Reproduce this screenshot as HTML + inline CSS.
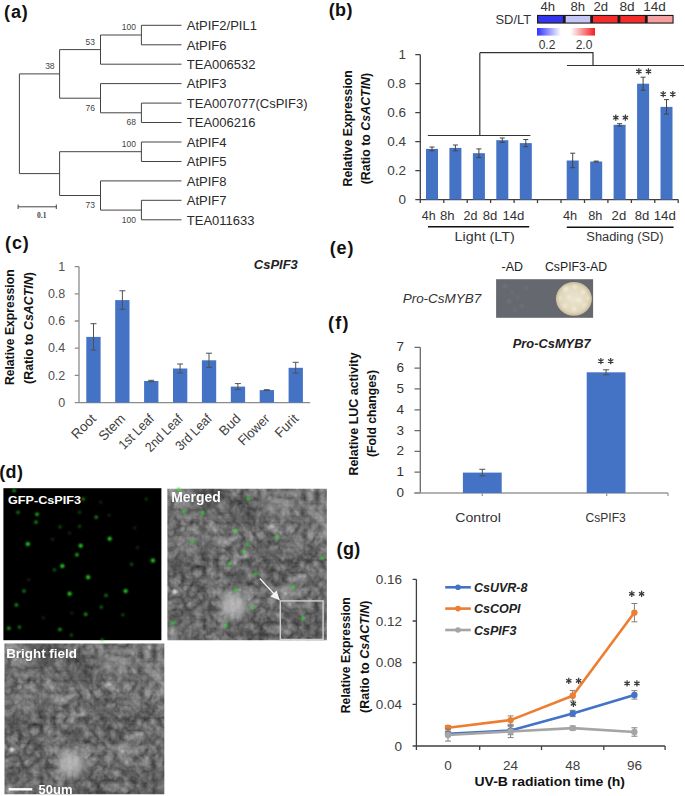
<!DOCTYPE html>
<html><head><meta charset="utf-8"><title>Figure</title>
<style>
html,body{margin:0;padding:0;background:#fff;}
svg{display:block;}
text{font-family:"Liberation Sans", sans-serif;}
</style></head><body>
<svg width="685" height="796" viewBox="0 0 685 796">

<text x="4.0" y="17.8" font-size="18" font-weight="bold" fill="#111" textLength="23.8" lengthAdjust="spacing">(a)</text>
<text x="328.7" y="16.1" font-size="18" font-weight="bold" fill="#111" textLength="23.8" lengthAdjust="spacing">(b)</text>
<text x="5.0" y="248.8" font-size="18" font-weight="bold" fill="#111" textLength="23.8" lengthAdjust="spacing">(c)</text>
<text x="-0.8" y="478.1" font-size="18" font-weight="bold" fill="#111" textLength="23.8" lengthAdjust="spacing">(d)</text>
<text x="329.7" y="253.5" font-size="18" font-weight="bold" fill="#111" textLength="23.8" lengthAdjust="spacing">(e)</text>
<text x="328.0" y="329.3" font-size="18" font-weight="bold" fill="#111" textLength="20.5" lengthAdjust="spacing">(f)</text>
<text x="336.5" y="555.2" font-size="18" font-weight="bold" fill="#111" textLength="23.8" lengthAdjust="spacing">(g)</text>
<path d="M141.4 25.3L181.5 25.3 M141.4 44.8L181.5 44.8 M100.5 64.2L181.5 64.2 M100.5 83.6L181.5 83.6 M141.4 103.1L181.5 103.1 M141.4 122.5L181.5 122.5 M141.4 142.0L181.5 142.0 M141.4 161.5L181.5 161.5 M100.5 180.9L181.5 180.9 M141.4 200.3L181.5 200.3 M141.4 219.8L181.5 219.8 M141.4 25.3L141.4 44.8 M100.5 35.0L141.4 35.0 M100.5 35.0L100.5 64.2 M59.6 49.6L100.5 49.6 M141.4 103.1L141.4 122.5 M100.5 112.8L141.4 112.8 M100.5 83.6L100.5 112.8 M59.6 98.2L100.5 98.2 M59.6 49.6L59.6 98.2 M19.4 73.9L59.6 73.9 M141.4 142.0L141.4 161.5 M59.6 151.7L141.4 151.7 M141.4 200.3L141.4 219.8 M100.5 210.1L141.4 210.1 M100.5 180.9L100.5 210.1 M59.6 195.5L100.5 195.5 M59.6 151.7L59.6 195.5 M19.4 173.6L59.6 173.6 M19.4 73.9L19.4 173.6 M18.1 206.8L56.3 206.8 M18.1 204.5L18.1 209.0 M56.3 204.5L56.3 209.0" stroke="#444" stroke-width="1" fill="none"/>
<text x="186.8" y="30.1" font-size="13" fill="#2a2a2a">AtPIF2/PIL1</text>
<text x="186.8" y="49.5" font-size="13" fill="#2a2a2a">AtPIF6</text>
<text x="186.8" y="69.0" font-size="13" fill="#2a2a2a">TEA006532</text>
<text x="186.8" y="88.4" font-size="13" fill="#2a2a2a">AtPIF3</text>
<text x="186.8" y="107.9" font-size="13" fill="#2a2a2a">TEA007077(CsPIF3)</text>
<text x="186.8" y="127.3" font-size="13" fill="#2a2a2a">TEA006216</text>
<text x="186.8" y="146.8" font-size="13" fill="#2a2a2a">AtPIF4</text>
<text x="186.8" y="166.3" font-size="13" fill="#2a2a2a">AtPIF5</text>
<text x="186.8" y="185.7" font-size="13" fill="#2a2a2a">AtPIF8</text>
<text x="186.8" y="205.2" font-size="13" fill="#2a2a2a">AtPIF7</text>
<text x="186.8" y="224.6" font-size="13" fill="#2a2a2a">TEA011633</text>
<text x="136" y="29.6" font-size="8.5" fill="#444" text-anchor="end">100</text>
<text x="95" y="44.7" font-size="8.5" fill="#444" text-anchor="end">53</text>
<text x="54.6" y="68.8" font-size="8.5" fill="#444" text-anchor="end">38</text>
<text x="95" y="110.5" font-size="8.5" fill="#444" text-anchor="end">76</text>
<text x="136" y="125.4" font-size="8.5" fill="#444" text-anchor="end">68</text>
<text x="136" y="146.5" font-size="8.5" fill="#444" text-anchor="end">100</text>
<text x="95" y="208" font-size="8.5" fill="#444" text-anchor="end">73</text>
<text x="136" y="222.7" font-size="8.5" fill="#444" text-anchor="end">100</text>
<text x="41.8" y="218.2" font-size="7.5" font-weight="bold" fill="#444" text-anchor="middle" style="font-family:'Liberation Serif',serif">0.1</text>
<rect x="537" y="14.9" width="136.6" height="8.7" fill="#1a1a1a"/>
<rect x="538.1" y="16.0" width="24.8" height="6.5" fill="#3434ee"/>
<rect x="565.7" y="16.0" width="24.5" height="6.5" fill="#c6c6f6"/>
<rect x="593.0" y="16.0" width="24.5" height="6.5" fill="#f42c2c"/>
<rect x="620.4" y="16.0" width="24.5" height="6.5" fill="#f42c2c"/>
<rect x="647.7" y="16.0" width="24.8" height="6.5" fill="#f4a0a0"/>
<text x="540.5" y="10.6" font-size="12" fill="#333" textLength="14.6" lengthAdjust="spacingAndGlyphs">4h</text>
<text x="570.5" y="10.6" font-size="12" fill="#333" textLength="14.6" lengthAdjust="spacingAndGlyphs">8h</text>
<text x="593.5" y="10.6" font-size="12" fill="#333" textLength="14.6" lengthAdjust="spacingAndGlyphs">2d</text>
<text x="619.5" y="10.6" font-size="12" fill="#333" textLength="15.2" lengthAdjust="spacingAndGlyphs">8d</text>
<text x="643.2" y="10.6" font-size="12" fill="#333" textLength="22.6" lengthAdjust="spacingAndGlyphs">14d</text>
<text x="495.5" y="24.1" font-size="12" fill="#333" textLength="35.6" lengthAdjust="spacingAndGlyphs">SD/LT</text>
<defs><linearGradient id="gb" x1="0" x2="1"><stop offset="0" stop-color="#3030ff"/><stop offset="1" stop-color="#ffffff"/></linearGradient><linearGradient id="gr" x1="0" x2="1"><stop offset="0" stop-color="#ffffff"/><stop offset="1" stop-color="#f02020"/></linearGradient></defs>
<rect x="537" y="28" width="24" height="7.6" fill="url(#gb)"/>
<rect x="570.5" y="28" width="24.5" height="7.6" fill="url(#gr)"/>
<text x="547" y="49" font-size="12" fill="#333" text-anchor="middle">0.2</text>
<text x="584" y="49" font-size="12" fill="#333" text-anchor="middle">2.0</text>
<path d="M479.8 52.7H593V65.5 M479.8 52.7V135.5 M427.9 135.5H530.4 M567 65.5H684" stroke="#333" stroke-width="1.2" fill="none"/>
<path d="M420.3 54.7V199.6 M415.3 199.6H678.4 M415.3 199.6H420.3 M415.3 170.6H420.3 M415.3 141.6H420.3 M415.3 112.7H420.3 M415.3 83.7H420.3 M415.3 54.7H420.3 M420.3 199.6V203 M443.8 199.6V203 M467.2 199.6V203 M490.6 199.6V203 M514.1 199.6V203 M537.5 199.6V203 M561.0 199.6V203 M584.5 199.6V203 M607.9 199.6V203 M631.4 199.6V203 M654.8 199.6V203 M678.2 199.6V203" stroke="#404040" stroke-width="1.3" fill="none"/>
<text x="406" y="203.6" font-size="13.5" fill="#404040" text-anchor="end">0</text>
<text x="406" y="174.6" font-size="13.5" fill="#404040" text-anchor="end">0.2</text>
<text x="406" y="145.6" font-size="13.5" fill="#404040" text-anchor="end">0.4</text>
<text x="406" y="116.7" font-size="13.5" fill="#404040" text-anchor="end">0.6</text>
<text x="406" y="87.7" font-size="13.5" fill="#404040" text-anchor="end">0.8</text>
<text x="406" y="58.7" font-size="13.5" fill="#404040" text-anchor="end">1</text>
<rect x="426.0" y="148.9" width="12" height="50.7" fill="#4472c4"/>
<rect x="449.4" y="147.9" width="12" height="51.7" fill="#4472c4"/>
<rect x="472.9" y="153.2" width="12" height="46.4" fill="#4472c4"/>
<rect x="496.3" y="140.2" width="12" height="59.4" fill="#4472c4"/>
<rect x="519.8" y="143.1" width="12" height="56.5" fill="#4472c4"/>
<rect x="566.7" y="160.5" width="12" height="39.1" fill="#4472c4"/>
<rect x="590.2" y="161.5" width="12" height="38.1" fill="#4472c4"/>
<rect x="613.6" y="124.8" width="12" height="74.8" fill="#4472c4"/>
<rect x="637.1" y="83.7" width="12" height="115.9" fill="#4472c4"/>
<rect x="660.5" y="106.9" width="12" height="92.7" fill="#4472c4"/>
<path d="M432.0 150.8V147.0 M429.5 147.0h5 M429.5 150.8h5 M455.4 150.8V145.0 M452.9 145.0h5 M452.9 150.8h5 M478.9 157.6V148.9 M476.4 148.9h5 M476.4 157.6h5 M502.3 142.4V138.0 M499.8 138.0h5 M499.8 142.4h5 M525.8 146.7V139.5 M523.3 139.5h5 M523.3 146.7h5 M572.7 167.7V153.2 M570.2 153.2h5 M570.2 167.7h5 M596.2 161.9V161.1 M593.7 161.1h5 M593.7 161.9h5 M619.6 126.0V123.7 M617.1 123.7h5 M617.1 126.0h5 M643.1 90.2V77.2 M640.6 77.2h5 M640.6 90.2h5 M666.5 114.1V99.6 M664.0 99.6h5 M664.0 114.1h5" stroke="#444" stroke-width="1" fill="none"/>
<path d="M615.80 114.60L615.80 120.80 M613.12 116.15L618.48 119.25 M613.12 119.25L618.48 116.15" stroke="#3a3a3a" stroke-width="1.25" fill="none"/>
<path d="M625.40 114.60L625.40 120.80 M622.72 116.15L628.08 119.25 M622.72 119.25L628.08 116.15" stroke="#3a3a3a" stroke-width="1.25" fill="none"/>
<path d="M638.85 68.30L638.85 74.50 M636.17 69.85L641.53 72.95 M636.17 72.95L641.53 69.85" stroke="#3a3a3a" stroke-width="1.25" fill="none"/>
<path d="M648.45 68.30L648.45 74.50 M645.77 69.85L651.13 72.95 M645.77 72.95L651.13 69.85" stroke="#3a3a3a" stroke-width="1.25" fill="none"/>
<path d="M663.20 91.00L663.20 97.20 M660.52 92.55L665.88 95.65 M660.52 95.65L665.88 92.55" stroke="#3a3a3a" stroke-width="1.25" fill="none"/>
<path d="M672.80 91.00L672.80 97.20 M670.12 92.55L675.48 95.65 M670.12 95.65L675.48 92.55" stroke="#3a3a3a" stroke-width="1.25" fill="none"/>
<text x="421.8" y="220.2" font-size="12.5" fill="#333" textLength="13.8" lengthAdjust="spacingAndGlyphs">4h</text>
<text x="440" y="220.2" font-size="12.5" fill="#333" textLength="14.6" lengthAdjust="spacingAndGlyphs">8h</text>
<text x="463.5" y="220.2" font-size="12.5" fill="#333" textLength="13.9" lengthAdjust="spacingAndGlyphs">2d</text>
<text x="482.7" y="220.2" font-size="12.5" fill="#333" textLength="14.6" lengthAdjust="spacingAndGlyphs">8d</text>
<text x="502.4" y="220.2" font-size="12.5" fill="#333" textLength="22.0" lengthAdjust="spacingAndGlyphs">14d</text>
<text x="563" y="220.2" font-size="12.5" fill="#333" textLength="14.2" lengthAdjust="spacingAndGlyphs">4h</text>
<text x="588.2" y="220.2" font-size="12.5" fill="#333" textLength="14.2" lengthAdjust="spacingAndGlyphs">8h</text>
<text x="611.6" y="220.2" font-size="12.5" fill="#333" textLength="14.6" lengthAdjust="spacingAndGlyphs">2d</text>
<text x="634.7" y="220.2" font-size="12.5" fill="#333" textLength="14.6" lengthAdjust="spacingAndGlyphs">8d</text>
<text x="653.7" y="220.2" font-size="12.5" fill="#333" textLength="22.2" lengthAdjust="spacingAndGlyphs">14d</text>
<path d="M428 226.7H529.2 M566.8 227.3H673.6" stroke="#111" stroke-width="1.6"/>
<text x="454.6" y="240.5" font-size="12.5" fill="#333" textLength="60.2" lengthAdjust="spacingAndGlyphs">Light  (LT)</text>
<text x="586.3" y="241.1" font-size="12.5" fill="#333" textLength="77.3" lengthAdjust="spacingAndGlyphs">Shading (SD)</text>
<text transform="translate(351.7,186.4) rotate(-90)" font-size="13.5" font-weight="bold" fill="#111" textLength="116.1" lengthAdjust="spacingAndGlyphs">Relative Expression</text>
<text transform="translate(370.1,184.3) rotate(-90)" font-size="13.5" font-weight="bold" fill="#111" textLength="111.5" lengthAdjust="spacingAndGlyphs">(Ratio  to <tspan font-style="italic">CsACTIN</tspan>)</text>
<path d="M79 266.6V402.6 M74.7 402.6H310.2 M74.7 402.6H79 M74.7 375.4H79 M74.7 348.2H79 M74.7 321.0H79 M74.7 293.8H79 M74.7 266.6H79" stroke="#8c8c8c" stroke-width="1.3" fill="none"/>
<text x="65.3" y="406.8" font-size="12.5" fill="#505050" text-anchor="end">0</text>
<text x="65.3" y="379.6" font-size="12.5" fill="#505050" text-anchor="end">0.2</text>
<text x="65.3" y="352.4" font-size="12.5" fill="#505050" text-anchor="end">0.4</text>
<text x="65.3" y="325.2" font-size="12.5" fill="#505050" text-anchor="end">0.6</text>
<text x="65.3" y="298.0" font-size="12.5" fill="#505050" text-anchor="end">0.8</text>
<text x="65.3" y="270.8" font-size="12.5" fill="#505050" text-anchor="end">1</text>
<rect x="86.3" y="336.9" width="14.3" height="65.7" fill="#4472c4"/>
<text transform="translate(97.0,419.5) rotate(-45)" font-size="13.5" fill="#404040" text-anchor="end" textLength="28.5" lengthAdjust="spacingAndGlyphs">Root</text>
<rect x="115.2" y="300.1" width="14.3" height="102.5" fill="#4472c4"/>
<text transform="translate(126.0,419.5) rotate(-45)" font-size="13.5" fill="#404040" text-anchor="end" textLength="31.0" lengthAdjust="spacingAndGlyphs">Stem</text>
<rect x="144.1" y="381.0" width="14.3" height="21.6" fill="#4472c4"/>
<text transform="translate(154.8,419.5) rotate(-45)" font-size="13.5" fill="#404040" text-anchor="end" textLength="43.5" lengthAdjust="spacingAndGlyphs">1st Leaf</text>
<rect x="173.0" y="368.5" width="14.3" height="34.1" fill="#4472c4"/>
<text transform="translate(183.7,419.5) rotate(-45)" font-size="13.5" fill="#404040" text-anchor="end" textLength="47.0" lengthAdjust="spacingAndGlyphs">2nd Leaf</text>
<rect x="201.9" y="360.3" width="14.3" height="42.3" fill="#4472c4"/>
<text transform="translate(212.6,419.5) rotate(-45)" font-size="13.5" fill="#404040" text-anchor="end" textLength="45.0" lengthAdjust="spacingAndGlyphs">3rd Leaf</text>
<rect x="230.8" y="386.6" width="14.3" height="16.0" fill="#4472c4"/>
<text transform="translate(241.5,419.5) rotate(-45)" font-size="13.5" fill="#404040" text-anchor="end" textLength="24.0" lengthAdjust="spacingAndGlyphs">Bud</text>
<rect x="259.7" y="390.1" width="14.3" height="12.5" fill="#4472c4"/>
<text transform="translate(270.4,419.5) rotate(-45)" font-size="13.5" fill="#404040" text-anchor="end" textLength="38.0" lengthAdjust="spacingAndGlyphs">Flower</text>
<rect x="288.6" y="367.8" width="14.3" height="34.8" fill="#4472c4"/>
<text transform="translate(299.3,419.5) rotate(-45)" font-size="13.5" fill="#404040" text-anchor="end" textLength="27.0" lengthAdjust="spacingAndGlyphs">Furit</text>
<path d="M93.5 350.1V323.7 M90.5 323.7h6 M90.5 350.1h6 M122.4 309.3V290.8 M119.4 290.8h6 M119.4 309.3h6 M151.2 381.7V380.3 M148.2 380.3h6 M148.2 381.7h6 M180.1 373.0V364.0 M177.1 364.0h6 M177.1 373.0h6 M209.0 367.4V353.2 M206.0 353.2h6 M206.0 367.4h6 M237.9 389.5V383.6 M234.9 383.6h6 M234.9 389.5h6 M266.8 390.5V389.7 M263.8 389.7h6 M263.8 390.5h6 M295.7 373.2V362.3 M292.7 362.3h6 M292.7 373.2h6" stroke="#505050" stroke-width="1" fill="none"/>
<text x="253.8" y="269.3" font-size="13" font-weight="bold" font-style="italic" fill="#222" textLength="44" lengthAdjust="spacingAndGlyphs">CsPIF3</text>
<text transform="translate(14.3,385.1) rotate(-90)" font-size="13.5" font-weight="bold" fill="#111" textLength="115.7" lengthAdjust="spacingAndGlyphs">Relative Expression</text>
<text transform="translate(32.7,383.9) rotate(-90)" font-size="13.5" font-weight="bold" fill="#111" textLength="111.8" lengthAdjust="spacingAndGlyphs">(Ratio  to <tspan font-style="italic">CsACTIN</tspan>)</text>
<text x="501.5" y="270.5" font-size="12.5" fill="#222" textLength="21.4" lengthAdjust="spacingAndGlyphs">-AD</text>
<text x="545" y="270.5" font-size="12.5" fill="#222" textLength="62" lengthAdjust="spacingAndGlyphs">CsPIF3-AD</text>
<text x="402.7" y="303.2" font-size="13" font-style="italic" fill="#333" textLength="78.5" lengthAdjust="spacingAndGlyphs">Pro-CsMYB7</text>
<rect x="496.1" y="279.2" width="97" height="38.6" fill="#65696f"/>
<defs><radialGradient id="col"><stop offset="0" stop-color="#ebe4d0"/><stop offset="0.8" stop-color="#e0d6ba"/><stop offset="1" stop-color="#c8bc9c"/></radialGradient></defs>
<ellipse cx="573.9" cy="298.9" rx="18" ry="16.9" fill="url(#col)"/>
<g filter="url(#blur1)" fill="#f4eedc" opacity="0.8">
<circle cx="566" cy="289" r="2.5"/>
<circle cx="575" cy="287" r="2"/>
<circle cx="583" cy="292" r="2.2"/>
<circle cx="569" cy="297" r="2"/>
<circle cx="579" cy="300" r="2.5"/>
<circle cx="565" cy="306" r="2"/>
<circle cx="574" cy="309" r="2.2"/>
<circle cx="584" cy="305" r="1.8"/>
<circle cx="560" cy="298" r="1.6"/>
<circle cx="588" cy="298" r="1.6"/>
</g>
<g filter="url(#blur1)" fill="#7a7e84" opacity="0.6">
<circle cx="505" cy="286" r="2"/>
<circle cx="512" cy="292" r="1.5"/>
<circle cx="509" cy="301" r="2"/>
<circle cx="518" cy="297" r="1.5"/>
<circle cx="522" cy="306" r="1.8"/>
<circle cx="515" cy="310" r="1.5"/>
<circle cx="526" cy="288" r="1.4"/>
</g>
<path d="M420.3 347.3V493.0 M414.5 493.0H420.3 M414.5 472.2H420.3 M414.5 451.4H420.3 M414.5 430.6H420.3 M414.5 409.8H420.3 M414.5 388.9H420.3 M414.5 368.1H420.3 M414.5 347.3H420.3" stroke="#6a6a6a" stroke-width="1.3" fill="none"/>
<path d="M414.5 493.0H668 M482.3 493.0V496 M606.7 493.0V496 M668 493.0V496" stroke="#9a9a9a" stroke-width="1.3" fill="none"/>
<text x="404" y="497.0" font-size="13.5" fill="#333" text-anchor="end">0</text>
<text x="404" y="476.2" font-size="13.5" fill="#333" text-anchor="end">1</text>
<text x="404" y="455.4" font-size="13.5" fill="#333" text-anchor="end">2</text>
<text x="404" y="434.6" font-size="13.5" fill="#333" text-anchor="end">3</text>
<text x="404" y="413.8" font-size="13.5" fill="#333" text-anchor="end">4</text>
<text x="404" y="392.9" font-size="13.5" fill="#333" text-anchor="end">5</text>
<text x="404" y="372.1" font-size="13.5" fill="#333" text-anchor="end">6</text>
<text x="404" y="351.3" font-size="13.5" fill="#333" text-anchor="end">7</text>
<rect x="462.9" y="472.6" width="38.8" height="20.4" fill="#4472c4"/>
<path d="M482.3 475.9V469.3 M479.3 469.3h6 M479.3 475.9h6" stroke="#505050" stroke-width="1" fill="none"/>
<rect x="586.7" y="372.3" width="38.8" height="120.7" fill="#4472c4"/>
<path d="M606.1 374.8V369.8 M603.1 369.8h6 M603.1 374.8h6" stroke="#505050" stroke-width="1" fill="none"/>
<path d="M600.90 358.00L600.90 364.20 M598.22 359.55L603.58 362.65 M598.22 362.65L603.58 359.55" stroke="#3a3a3a" stroke-width="1.25" fill="none"/>
<path d="M610.70 358.00L610.70 364.20 M608.02 359.55L613.38 362.65 M608.02 362.65L613.38 359.55" stroke="#3a3a3a" stroke-width="1.25" fill="none"/>
<text x="512.8" y="347.6" font-size="13" font-weight="bold" font-style="italic" fill="#222" textLength="77.8" lengthAdjust="spacingAndGlyphs">Pro-CsMYB7</text>
<text x="455.3" y="522.2" font-size="13" fill="#333" textLength="45.6" lengthAdjust="spacingAndGlyphs">Control</text>
<text x="585.6" y="522.2" font-size="13" fill="#333" textLength="40.2" lengthAdjust="spacingAndGlyphs">CsPIF3</text>
<text transform="translate(357.6,475.6) rotate(-90)" font-size="12.3" font-weight="bold" fill="#111" textLength="123.3" lengthAdjust="spacingAndGlyphs">Relative LUC activity</text>
<text transform="translate(376.1,457) rotate(-90)" font-size="12.3" font-weight="bold" fill="#111" textLength="87" lengthAdjust="spacingAndGlyphs">(Fold changes)</text>
<path d="M416.4 579.3V746.0 M412.6 746.0H665.1 M412.6 746.0H416.4 M412.6 704.3H416.4 M412.6 662.6H416.4 M412.6 621.0H416.4 M412.6 579.3H416.4 M416.4 746.0V750 M479.7 746.0V750 M541.5 746.0V750 M603.8 746.0V750 M665.1 746.0V750" stroke="#404040" stroke-width="1.3" fill="none"/>
<text x="402" y="750.8" font-size="13.5" fill="#404040" text-anchor="end">0</text>
<text x="402" y="709.1" font-size="13.5" fill="#404040" text-anchor="end">0.04</text>
<text x="402" y="667.4" font-size="13.5" fill="#404040" text-anchor="end">0.08</text>
<text x="402" y="625.8" font-size="13.5" fill="#404040" text-anchor="end">0.12</text>
<text x="402" y="584.1" font-size="13.5" fill="#404040" text-anchor="end">0.16</text>
<path d="M448.0 736.0V731.8 M445.0 731.8h6 M445.0 736.0h6 M510.6 734.7V726.3 M507.6 726.3h6 M507.6 734.7h6 M572.7 716.6V710.3 M569.7 710.3h6 M569.7 716.6h6 M634.4 699.1V690.7 M631.4 690.7h6 M631.4 699.1h6" stroke="#808080" stroke-width="1" fill="none"/>
<polyline points="448.0,733.9 510.6,730.5 572.7,713.5 634.4,694.9" stroke="#4472c4" stroke-width="2.6" fill="none" stroke-linejoin="round"/>
<circle cx="448.0" cy="733.9" r="3.2" fill="#4472c4"/>
<circle cx="510.6" cy="730.5" r="3.2" fill="#4472c4"/>
<circle cx="572.7" cy="713.5" r="3.2" fill="#4472c4"/>
<circle cx="634.4" cy="694.9" r="3.2" fill="#4472c4"/>
<path d="M448.0 729.8V725.6 M445.0 725.6h6 M445.0 729.8h6 M510.6 724.3V715.9 M507.6 715.9h6 M507.6 724.3h6 M572.7 701.1V690.6 M569.7 690.6h6 M569.7 701.1h6 M634.4 621.8V603.5 M631.4 603.5h6 M631.4 621.8h6" stroke="#808080" stroke-width="1" fill="none"/>
<polyline points="448.0,727.7 510.6,720.1 572.7,695.8 634.4,612.6" stroke="#ed7d31" stroke-width="2.6" fill="none" stroke-linejoin="round"/>
<circle cx="448.0" cy="727.7" r="3.2" fill="#ed7d31"/>
<circle cx="510.6" cy="720.1" r="3.2" fill="#ed7d31"/>
<circle cx="572.7" cy="695.8" r="3.2" fill="#ed7d31"/>
<circle cx="634.4" cy="612.6" r="3.2" fill="#ed7d31"/>
<path d="M448.0 741.1V728.9 M445.0 728.9h6 M445.0 741.1h6 M510.6 737.6V725.4 M507.6 725.4h6 M507.6 737.6h6 M572.7 730.2V726.0 M569.7 726.0h6 M569.7 730.2h6 M634.4 736.2V727.8 M631.4 727.8h6 M631.4 736.2h6" stroke="#808080" stroke-width="1" fill="none"/>
<polyline points="448.0,735.0 510.6,731.5 572.7,728.1 634.4,732.0" stroke="#a5a5a5" stroke-width="2.6" fill="none" stroke-linejoin="round"/>
<circle cx="448.0" cy="735.0" r="3.2" fill="#a5a5a5"/>
<circle cx="510.6" cy="731.5" r="3.2" fill="#a5a5a5"/>
<circle cx="572.7" cy="728.1" r="3.2" fill="#a5a5a5"/>
<circle cx="634.4" cy="732.0" r="3.2" fill="#a5a5a5"/>
<path d="M631.80 590.70L631.80 596.90 M629.12 592.25L634.48 595.35 M629.12 595.35L634.48 592.25" stroke="#3a3a3a" stroke-width="1.25" fill="none"/>
<path d="M641.60 590.70L641.60 596.90 M638.92 592.25L644.28 595.35 M638.92 595.35L644.28 592.25" stroke="#3a3a3a" stroke-width="1.25" fill="none"/>
<path d="M627.10 680.30L627.10 686.50 M624.42 681.85L629.78 684.95 M624.42 684.95L629.78 681.85" stroke="#3a3a3a" stroke-width="1.25" fill="none"/>
<path d="M636.90 680.30L636.90 686.50 M634.22 681.85L639.58 684.95 M634.22 684.95L639.58 681.85" stroke="#3a3a3a" stroke-width="1.25" fill="none"/>
<path d="M568.80 677.70L568.80 683.90 M566.12 679.25L571.48 682.35 M566.12 682.35L571.48 679.25" stroke="#3a3a3a" stroke-width="1.25" fill="none"/>
<path d="M578.60 677.70L578.60 683.90 M575.92 679.25L581.28 682.35 M575.92 682.35L581.28 679.25" stroke="#3a3a3a" stroke-width="1.25" fill="none"/>
<path d="M573.40 700.70L573.40 706.90 M570.72 702.25L576.08 705.35 M570.72 705.35L576.08 702.25" stroke="#3a3a3a" stroke-width="1.25" fill="none"/>
<path d="M445.2 587.3H470.8" stroke="#4472c4" stroke-width="2.6"/>
<circle cx="458" cy="587.3" r="2.8" fill="#4472c4"/>
<text x="474" y="591.8" font-size="12.5" font-weight="bold" font-style="italic" fill="#222">CsUVR-8</text>
<path d="M445.2 608.6H470.8" stroke="#ed7d31" stroke-width="2.6"/>
<circle cx="458" cy="608.6" r="2.8" fill="#ed7d31"/>
<text x="474" y="613.1" font-size="12.5" font-weight="bold" font-style="italic" fill="#222">CsCOPI</text>
<path d="M445.2 630.0H470.8" stroke="#a5a5a5" stroke-width="2.6"/>
<circle cx="458" cy="630.0" r="2.8" fill="#a5a5a5"/>
<text x="474" y="634.5" font-size="12.5" font-weight="bold" font-style="italic" fill="#222">CsPIF3</text>
<text x="448.0" y="769.5" font-size="13.5" fill="#404040" text-anchor="middle">0</text>
<text x="510.6" y="769.5" font-size="13.5" fill="#404040" text-anchor="middle">24</text>
<text x="572.7" y="769.5" font-size="13.5" fill="#404040" text-anchor="middle">48</text>
<text x="634.4" y="769.5" font-size="13.5" fill="#404040" text-anchor="middle">96</text>
<text x="474.5" y="786.4" font-size="13" font-weight="bold" fill="#111" textLength="150.5" lengthAdjust="spacingAndGlyphs">UV-B radiation time (h)</text>
<text transform="translate(350.3,713.2) rotate(-90)" font-size="13.5" font-weight="bold" fill="#111" textLength="116.0" lengthAdjust="spacingAndGlyphs">Relative Expression</text>
<text transform="translate(369.2,712.9) rotate(-90)" font-size="13.5" font-weight="bold" fill="#111" textLength="112.4" lengthAdjust="spacingAndGlyphs">(Ratio  to <tspan font-style="italic">CsACTIN</tspan>)</text>
<defs>
<filter id="tex" color-interpolation-filters="sRGB" x="0" y="0" width="100%" height="100%">
 <feTurbulence type="fractalNoise" baseFrequency="0.03" numOctaves="2" seed="11" result="lo"/>
 <feTurbulence type="turbulence" baseFrequency="0.08" numOctaves="3" seed="5" result="hi"/>
 <feTurbulence type="fractalNoise" baseFrequency="0.15" numOctaves="2" seed="3" result="hf"/>
 <feColorMatrix in="lo" type="matrix" values="0.22 0 0 0 0  0.22 0 0 0 0  0.22 0 0 0 0  0 0 0 0 1" result="lo2"/>
 <feColorMatrix in="hi" type="matrix" values="0.36 0 0 0 0  0.36 0 0 0 0  0.36 0 0 0 0  0 0 0 0 1" result="hi2"/>
 <feColorMatrix in="hf" type="matrix" values="0.3 0 0 0 0  0.3 0 0 0 0  0.3 0 0 0 0  0 0 0 0 1" result="hf2"/>
 <feComposite in="lo2" in2="hi2" operator="arithmetic" k1="0" k2="1" k3="1" k4="0" result="m1"/>
 <feComposite in="m1" in2="hf2" operator="arithmetic" k1="0" k2="1" k3="1" k4="0.045" result="m"/>
 <feGaussianBlur in="m" stdDeviation="0.7"/>
</filter>
<filter id="blur1"><feGaussianBlur stdDeviation="0.9"/></filter>
<filter id="blur3"><feGaussianBlur stdDeviation="4"/></filter>
<clipPath id="cpM"><rect x="167.4" y="488.7" width="159.4" height="151.5"/></clipPath>
<clipPath id="cpB"><rect x="4.5" y="643.4" width="159.8" height="150.8"/></clipPath>
</defs>
<rect x="3.4" y="488.2" width="158" height="152" fill="#000"/>
<g filter="url(#blur1)">
<circle cx="14.1" cy="490.6" r="1.7" fill="#2ee02e" opacity="0.77"/>
<circle cx="18" cy="512.3" r="1.6" fill="#2ee02e" opacity="0.62"/>
<circle cx="37.1" cy="514.3" r="1.8" fill="#2ee02e" opacity="0.85"/>
<circle cx="36" cy="522.1" r="1.7" fill="#2ee02e" opacity="0.74"/>
<circle cx="60" cy="526.9" r="1.4" fill="#2ee02e" opacity="0.51"/>
<circle cx="27.8" cy="544.1" r="2.0" fill="#2ee02e" opacity="1.00"/>
<circle cx="79.5" cy="526.5" r="1.4" fill="#2ee02e" opacity="0.47"/>
<circle cx="79.5" cy="512.3" r="1.4" fill="#2ee02e" opacity="0.47"/>
<circle cx="80.7" cy="545.8" r="2.0" fill="#2ee02e" opacity="1.00"/>
<circle cx="76.9" cy="554.8" r="1.8" fill="#2ee02e" opacity="0.85"/>
<circle cx="62.3" cy="566.1" r="2.0" fill="#2ee02e" opacity="1.00"/>
<circle cx="83.2" cy="499.1" r="1.6" fill="#2ee02e" opacity="0.70"/>
<circle cx="96.2" cy="517.2" r="1.6" fill="#2ee02e" opacity="0.70"/>
<circle cx="109.7" cy="538.8" r="2.0" fill="#2ee02e" opacity="1.00"/>
<circle cx="152.9" cy="560.4" r="2.0" fill="#2ee02e" opacity="1.00"/>
<circle cx="146.2" cy="499.1" r="1.3" fill="#2ee02e" opacity="0.40"/>
<circle cx="131.6" cy="563.9" r="1.3" fill="#2ee02e" opacity="0.40"/>
<circle cx="54.4" cy="569.8" r="1.5" fill="#2ee02e" opacity="0.55"/>
<circle cx="24" cy="590.9" r="1.6" fill="#2ee02e" opacity="0.66"/>
<circle cx="69.6" cy="593.8" r="2.0" fill="#2ee02e" opacity="1.00"/>
<circle cx="16.4" cy="604.9" r="1.7" fill="#2ee02e" opacity="0.77"/>
<circle cx="8.8" cy="628.2" r="1.7" fill="#2ee02e" opacity="0.77"/>
<circle cx="19.4" cy="627.1" r="1.6" fill="#2ee02e" opacity="0.66"/>
<circle cx="59.9" cy="629.4" r="1.7" fill="#2ee02e" opacity="0.77"/>
<circle cx="71.3" cy="635.2" r="1.4" fill="#2ee02e" opacity="0.51"/>
<circle cx="88.1" cy="577.2" r="2.0" fill="#2ee02e" opacity="1.00"/>
<circle cx="125.6" cy="591.1" r="2.0" fill="#2ee02e" opacity="1.00"/>
<circle cx="106" cy="595.3" r="1.6" fill="#2ee02e" opacity="0.62"/>
<circle cx="101.3" cy="607" r="1.5" fill="#2ee02e" opacity="0.59"/>
<circle cx="85.7" cy="614.2" r="1.7" fill="#2ee02e" opacity="0.74"/>
<circle cx="122.9" cy="614.8" r="1.4" fill="#2ee02e" opacity="0.51"/>
<circle cx="102.1" cy="640" r="1.6" fill="#2ee02e" opacity="0.62"/>
<circle cx="69.6" cy="533" r="1.3" fill="#888" opacity="0.35"/>
<circle cx="52.6" cy="539.4" r="1.3" fill="#888" opacity="0.35"/>
<circle cx="100.7" cy="502.2" r="1.3" fill="#888" opacity="0.35"/>
<circle cx="109.1" cy="515.2" r="1.3" fill="#888" opacity="0.35"/>
<circle cx="134.6" cy="527.7" r="1.3" fill="#888" opacity="0.35"/>
<circle cx="137.5" cy="547.6" r="1.3" fill="#888" opacity="0.35"/>
<circle cx="28.7" cy="579.8" r="1.3" fill="#888" opacity="0.35"/>
<circle cx="71.9" cy="613" r="1.3" fill="#888" opacity="0.35"/>
<circle cx="43.3" cy="617.7" r="1.3" fill="#888" opacity="0.35"/>
<circle cx="131.6" cy="565" r="1.3" fill="#888" opacity="0.35"/>
</g>
<text x="8.0" y="504" font-size="11" font-weight="bold" fill="#fff" textLength="73" lengthAdjust="spacingAndGlyphs">GFP-CsPIF3</text>
<defs><g id="texg">
<rect x="-4" y="-6" width="168" height="162" fill="#888" filter="url(#tex)"/>
<g filter="url(#blur3)">
<circle cx="67" cy="120" r="13" fill="#d8d8d8" opacity="0.7"/>
<circle cx="105" cy="20" r="14" fill="#c8c8c8" opacity="0.25"/>
<circle cx="148" cy="30" r="12" fill="#c8c8c8" opacity="0.25"/>
<circle cx="35" cy="15" r="18" fill="#383838" opacity="0.2"/>
<circle cx="70" cy="25" r="14" fill="#383838" opacity="0.15"/>
<circle cx="20" cy="60" r="10" fill="#c0c0c0" opacity="0.2"/>
<circle cx="128" cy="62" r="10" fill="#c0c0c0" opacity="0.2"/>
<circle cx="100" cy="70" r="12" fill="#404040" opacity="0.15"/>
<circle cx="120" cy="105" r="10" fill="#c8c8c8" opacity="0.25"/>
<circle cx="150" cy="138" r="14" fill="#383838" opacity="0.2"/>
<circle cx="20" cy="138" r="12" fill="#404040" opacity="0.15"/>
<circle cx="40" cy="100" r="12" fill="#404040" opacity="0.12"/>
</g>
<g filter="url(#blur1)" fill="#f0f0f0">
<circle cx="7.3" cy="106.3" r="2.2" opacity="1"/>
<circle cx="70" cy="70" r="1.5" opacity="0.8"/>
<circle cx="74" cy="72" r="1.3" opacity="0.8"/>
<circle cx="78" cy="71" r="1.3" opacity="0.7"/>
<circle cx="82" cy="114" r="1.4" opacity="0.8"/>
<circle cx="90" cy="116" r="1.2" opacity="0.7"/>
<circle cx="118" cy="108" r="1.4" opacity="0.8"/>
<circle cx="124" cy="110" r="1.2" opacity="0.6"/>
<circle cx="154" cy="5" r="1.5" opacity="0.6"/>
<circle cx="60" cy="30" r="1.3" opacity="0.4"/>
</g>
</g></defs>
<g clip-path="url(#cpM)"><use href="#texg" transform="translate(167.4,485.5)"/></g>
<g filter="url(#blur1)">
<circle cx="178.6" cy="489.5" r="1.7" fill="#30e030"/>
<circle cx="183.6" cy="511.8" r="1.7" fill="#30e030"/>
<circle cx="202.7" cy="512.8" r="1.7" fill="#30e030"/>
<circle cx="192.3" cy="541.6" r="1.7" fill="#30e030"/>
<circle cx="248.1" cy="498.7" r="1.7" fill="#30e030"/>
<circle cx="235.7" cy="530.9" r="1.7" fill="#30e030"/>
<circle cx="247.4" cy="544.1" r="1.7" fill="#30e030"/>
<circle cx="243.9" cy="552" r="1.7" fill="#30e030"/>
<circle cx="229" cy="564" r="1.7" fill="#30e030"/>
<circle cx="255.6" cy="573.9" r="1.7" fill="#30e030"/>
<circle cx="277.1" cy="537.1" r="1.7" fill="#30e030"/>
<circle cx="321.8" cy="558.2" r="1.7" fill="#30e030"/>
<circle cx="235.7" cy="590.5" r="1.7" fill="#30e030"/>
<circle cx="293.3" cy="587.3" r="1.7" fill="#30e030"/>
<circle cx="302.7" cy="618.3" r="1.7" fill="#30e030"/>
<circle cx="172.9" cy="622.8" r="1.7" fill="#30e030"/>
<circle cx="225.8" cy="625.2" r="1.7" fill="#30e030"/>
<circle cx="251.8" cy="607.9" r="1.7" fill="#30e030"/>
</g>
<rect x="280.3" y="600.9" width="42.8" height="38.6" fill="none" stroke="#cfcfcf" stroke-width="1.4"/>
<path d="M259.8 578.5L276 596" stroke="#f4f4f4" stroke-width="1.3"/><path d="M280 600.5L270.5 596.5L276.5 590.5Z" fill="#f4f4f4"/>
<text x="171.2" y="502" font-size="13.9" font-weight="bold" fill="#fff" textLength="49.6" lengthAdjust="spacingAndGlyphs">Merged</text>
<g clip-path="url(#cpB)"><use href="#texg" transform="translate(4.5,643.4)"/></g>
<text x="6.2" y="657.9" font-size="12.3" font-weight="bold" fill="#fff" textLength="70.7" lengthAdjust="spacingAndGlyphs">Bright field</text>
<path d="M8.7 789.3H32.3" stroke="#fff" stroke-width="2.4"/>
<text x="38.5" y="793.5" font-size="12" font-weight="bold" fill="#fff" textLength="34" lengthAdjust="spacingAndGlyphs">50um</text>
</svg></body></html>
